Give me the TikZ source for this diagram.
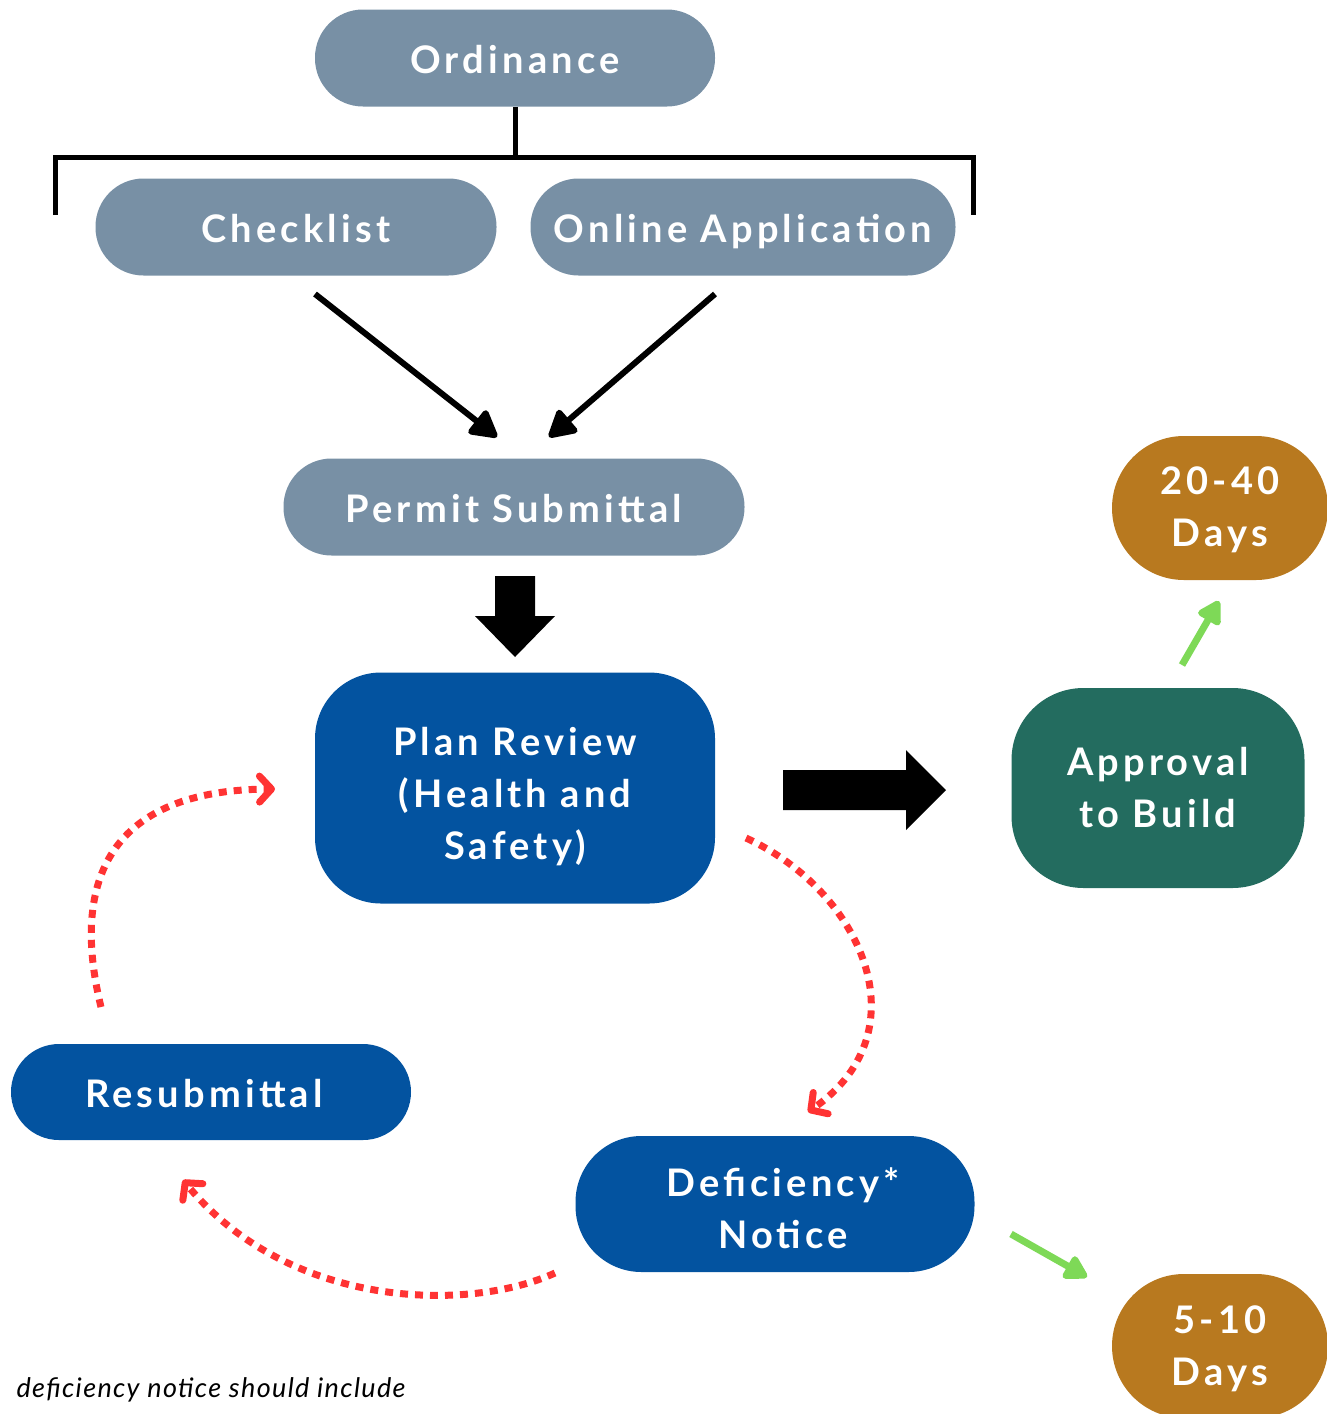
\documentclass[tikz,border=0pt]{standalone}
\usepackage{fontspec}
\setmainfont{Lato}
\newfontfamily\labfont{Lato}[LetterSpace=11]
\newfontfamily\notefont{Lato}[LetterSpace=5]
\usetikzlibrary{arrows.meta}
\definecolor{slate}{RGB}{120,144,165}
\definecolor{navy}{RGB}{3,83,160}
\definecolor{cgreen}{RGB}{35,108,95}
\definecolor{ochre}{RGB}{184,121,31}
\definecolor{cred}{RGB}{255,51,51}
\definecolor{clime}{RGB}{126,217,87}
\tikzset{
  box/.style={inner sep=0pt, text=white, align=center,
    font=\labfont\bfseries\fontsize{38}{52}\selectfont},
  pill/.style={box, fill=slate, minimum height=97pt, rounded corners=48pt,
    text height=37pt, text depth=7pt},
  bluebox/.style={box, fill=navy},
  dayspill/.style={box, fill=ochre, minimum width=216pt, minimum height=144pt, rounded corners=72pt},
  bracket/.style={line width=5pt},
  blackarrow/.style={line width=6pt, -{Triangle[length=30pt,width=32pt,round]}},
  greenarrow/.style={line width=7pt, draw=clime, -{Triangle[length=26pt,width=28pt,round]}},
  redloop/.style={draw=cred, line width=7pt, dash pattern=on 8pt off 7pt,
    -{Straight Barb[length=12pt,width=26pt,line width=7pt,round]}},
  blockarrow/.style={fill=black},
  note/.style={anchor=base west, font=\notefont\itshape\fontsize{27}{31}\selectfont}
}
\begin{document}
\begin{tikzpicture}[x=1pt,y=-1pt]
\useasboundingbox (0,0) rectangle (1326,1414);

% top row
\node[pill, minimum width=400pt] (ord) at (515,58) {Ordinance};
\node[pill, minimum width=401pt] (chk) at (296,227) {Checklist};
\node[pill, minimum width=425pt] (onl) at (743,227) {Online Application};
\node[pill, minimum width=461pt] (perm) at (514,507) {Permit Submittal};

% bracket
\coordinate (bar) at (515,157);
\coordinate (bl) at (55,215);
\coordinate (br) at (973,215);
\draw[bracket] (ord.south) -- (bar);
\draw[bracket] (bl) -- ++(0,-58) -| (br);

% arrows into permit submittal
\coordinate (a1s) at (315,294);
\coordinate (a1e) at (497,437);
\coordinate (a2s) at (715,294);
\coordinate (a2e) at (549,437);
\draw[blackarrow] (a1s) -- (a1e);
\draw[blackarrow] (a2s) -- (a2e);

% plan review
\node[bluebox, minimum width=400pt, minimum height=231pt, rounded corners=66pt] (plan) at (515,788)
  {\rule{0pt}{46pt}Plan Review\\(Health and\\Safety)};

% block down arrow
\fill[blockarrow] (495,576) -- (535,576) -- (535,616) -- (555,616) -- (515,657) -- (475,616) -- (495,616) -- cycle;

% approval
\node[box, fill=cgreen, minimum width=293pt, minimum height=200pt, rounded corners=72pt] (appr) at (1158,788)
  {Approval\\to Build};

% block right arrow
\fill[blockarrow] (783,770) -- (906,770) -- (906,750) -- (946,790) -- (906,830) -- (906,810) -- (783,810) -- cycle;

% days
\node[dayspill] (d1) at (1220,508) {\rule{0pt}{32pt}20-40\\Days};
\node[dayspill] (d2) at (1220,1346) {\rule{0pt}{34pt}5-10\\Days};

\coordinate (g1s) at (1182,665);
\coordinate (g1e) at (1219,601);
\draw[greenarrow] (g1s) -- (g1e);

% deficiency & resubmittal
\node[bluebox, minimum width=399pt, minimum height=136pt, rounded corners=66pt] (def) at (775,1204)
  {\rule{0pt}{38pt}\hspace*{16pt}Deficiency*\\\hspace*{16pt}Notice};
\node[bluebox, minimum width=400pt, minimum height=96pt, rounded corners=48pt,
  text height=37pt, text depth=7pt] (res) at (211,1092)
  {Resubmittal\hspace*{14pt}};

\coordinate (g2s) at (1011,1234);
\coordinate (g2e) at (1087,1277);
\draw[greenarrow] (g2s) -- (g2e);

% red dotted loops
\coordinate (r1s) at (746,838);
\coordinate (r1e) at (808,1112);
\draw[redloop] (r1s) .. controls (860,890) and (925,1030) .. (r1e);

\coordinate (r2s) at (555,1273);
\coordinate (r2e) at (183,1180);
\draw[redloop] (r2s) .. controls (470,1312) and (290,1310) .. (r2e);

\coordinate (r3s) at (101,1007);
\coordinate (r3e) at (275,789);
\draw[redloop] (r3s) .. controls (70,880) and (110,790) .. (r3e);

% footnote
\node[note] (fn) at (13,1397) {deficiency notice should include};
\end{tikzpicture}
\end{document}
